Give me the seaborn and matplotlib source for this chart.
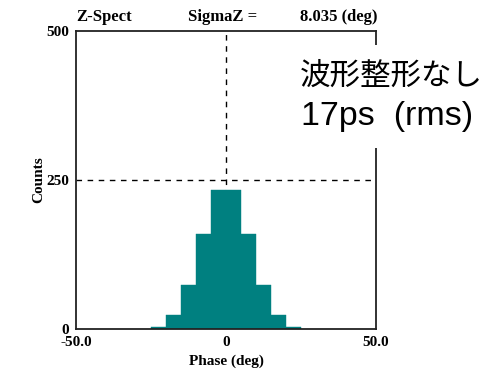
import numpy as np
import pandas as pd
import matplotlib
matplotlib.use("Agg")
import matplotlib.pyplot as plt
import seaborn as sns

# histogram of phase
bin_edges = [-25, -20, -15, -10, -5, 0, 5, 10, 15, 20, 25]
bin_centers = [-22.5, -17.5, -12.5, -7.5, -2.5, 2.5, 7.5, 12.5, 17.5, 22.5]
counts = [3, 23, 73, 159, 234, 234, 159, 73, 23, 3]

x_ticks = [-50, 0, 50]
x_tick_labels = ["-50.0", "0", "50.0"]
y_ticks = [0, 250, 500]
y_tick_labels = ["0", "250", "500"]

sigma_z = 8.035

df = pd.DataFrame({"phase": bin_centers, "count": counts})

sns.set_style("white")
plt.rcParams["font.family"] = ["Liberation Serif", "DejaVu Serif"]
plt.rcParams["font.weight"] = "bold"
plt.rcParams["text.color"] = "black"
plt.rcParams["axes.labelcolor"] = "black"
plt.rcParams["xtick.color"] = "black"
plt.rcParams["ytick.color"] = "black"

fig = plt.figure(figsize=(4.91, 3.80), dpi=100)
ax = fig.add_axes([76 / 491, 51 / 380, 300 / 491, 298 / 380])

# dashed guide lines behind the bars
ax.axvline(0, color="black", lw=1, ls=(0, (4, 4)), zorder=0)
ax.axhline(250, color="black", lw=1, ls=(0, (4, 4)), zorder=0)

sns.histplot(data=df, x="phase", weights="count", bins=bin_edges,
             color="#008080", edgecolor="#008080", linewidth=0.3,
             alpha=1, ax=ax, zorder=2)

ax.set_xlim(-50, 50)
ax.set_ylim(0, 500)
ax.set_xticks(x_ticks)
ax.set_xticklabels(x_tick_labels)
ax.set_yticks(y_ticks)
ax.set_yticklabels(y_tick_labels)
ax.tick_params(length=0, labelsize=11, pad=5)
for lab in ax.get_xticklabels() + ax.get_yticklabels():
    lab.set_fontweight("bold")

ax.set_xlabel("Phase (deg)", fontsize=11, fontweight="bold", labelpad=4)
ax.set_ylabel("Counts", fontsize=11, fontweight="bold", labelpad=1)

for side in ["left", "right", "top", "bottom"]:
    ax.spines[side].set_color("#222222")
    ax.spines[side].set_linewidth(1.3)
    ax.spines[side].set_visible(True)

# header texts
fig.text(76 / 491, 1 - 17 / 380, "Z-Spect", fontsize=12, fontweight="bold",
         va="center", ha="left")
fig.text(188 / 491, 1 - 17 / 380, "SigmaZ =", fontsize=12, fontweight="bold",
         va="center", ha="left")
fig.text(378 / 491, 1 - 17 / 380, f"{sigma_z:.3f} (deg)", fontsize=12,
         fontweight="bold", va="center", ha="right")

# Japanese annotation on a white box
fig.patches.append(plt.Rectangle((290 / 491, 1 - 148 / 380), 201 / 491, 103 / 380,
                                 transform=fig.transFigure, facecolor="white",
                                 edgecolor="none", zorder=5))
fig.text(300 / 491, 1 - 76 / 380, "波形整形なし", fontsize=22,
         family=["Noto Sans CJK JP", "DejaVu Sans"], fontweight="normal",
         va="center", ha="left", zorder=6)
fig.text(301 / 491, 1 - 116 / 380, "17ps  (rms)", fontsize=24.5,
         family=["Liberation Sans", "DejaVu Sans"], fontweight="normal",
         va="center", ha="left", zorder=6)

fig.savefig("out.png", dpi=100, facecolor="white")
